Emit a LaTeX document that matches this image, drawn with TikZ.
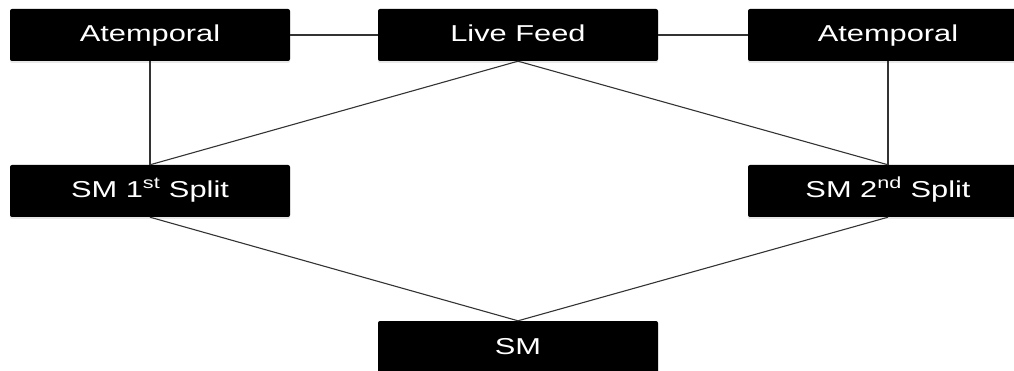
\documentclass[tikz,border=0pt]{standalone}
\usepackage{fontspec}
\usepackage{graphicx}
\setmainfont{Liberation Sans}
\usetikzlibrary{shadows}
% box labels are set in a horizontally widened sans serif
\newcommand{\widelabel}[1]{\scalebox{1.34}[1]{#1}}
\tikzset{
  box/.style={rectangle, fill=black, rounded corners=2pt,
    minimum width=280pt, minimum height=52pt, inner sep=0pt,
    text height=14pt, text depth=0pt,
    text=white, font=\fontsize{23}{28}\selectfont,
    drop shadow={opacity=0.18, shadow xshift=0pt, shadow yshift=-2pt}},
  link/.style={draw=black!80, line width=1.1pt}
}
\begin{document}
\begin{tikzpicture}[x=1pt,y=-1pt]
  \useasboundingbox (0,0) rectangle (1014,371);
  \node[box] (atl) at (150,35) {\widelabel{Atemporal}};
  \node[box] (live) at (518,35) {\widelabel{Live Feed}};
  \node[box] (atr) at (888,35) {\widelabel{Atemporal}};
  \node[box] (s1) at (150,191) {\widelabel{SM 1\textsuperscript{st} Split}};
  \node[box] (s2) at (888,191) {\widelabel{SM 2\textsuperscript{nd} Split}};
  \node[box] (sm) at (518,347) {\widelabel{SM}};
  \draw[link] (atl.east) -- (live.west);
  \draw[link] (live.east) -- (atr.west);
  \draw[link] (atl.south) -- (s1.north);
  \draw[link] (atr.south) -- (s2.north);
  \draw[link] (live.south) -- (s1.north);
  \draw[link] (live.south) -- (s2.north);
  \draw[link] (s1.south) -- (sm.north);
  \draw[link] (s2.south) -- (sm.north);
\end{tikzpicture}
\end{document}
